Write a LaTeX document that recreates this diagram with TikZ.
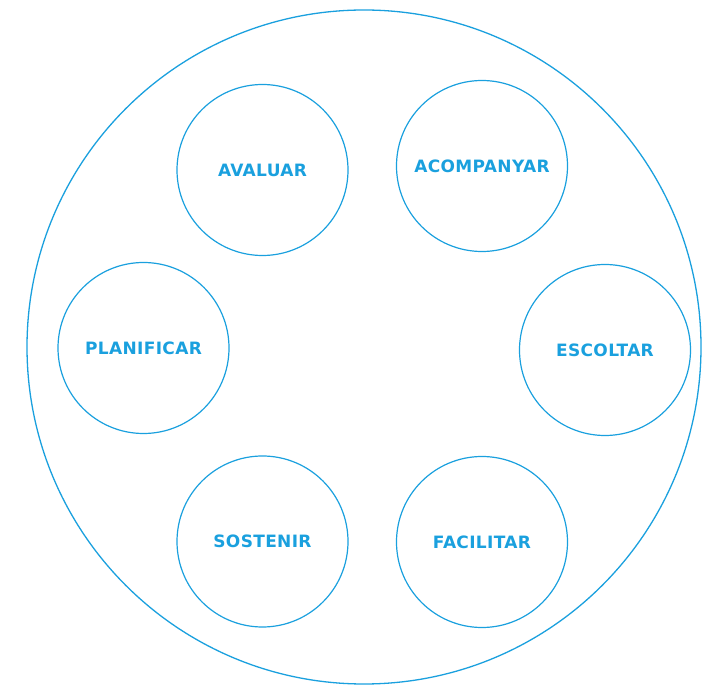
\documentclass[tikz,border=0pt]{standalone}
\usepackage{fontspec}
\setmainfont{Lato}
\newfontfamily\labelfont[LetterSpace=2]{DejaVu Sans}
\definecolor{cblue}{HTML}{1AA0DE}
\newcommand{\lbl}[1]{\raisebox{-2pt}{#1}}
\begin{document}
\begin{tikzpicture}[x=1pt,y=1pt,
  ring/.style={circle,draw=cblue,line width=1.2pt,minimum size=171pt,inner sep=0pt,
    text=cblue,font=\labelfont\bfseries\fontsize{17}{20}\selectfont}]
\useasboundingbox (0,0) rectangle (702,686);
\begin{scope}
\clip (0,0) rectangle (702,686);
\node[circle,draw=cblue,line width=1.3pt,minimum size=674pt,inner sep=0pt] (outer) at (364,339) {};
\end{scope}
\node[ring] (avaluar) at (262.5,516) {\lbl{AVALUAR}};
\node[ring] (acompanyar) at (482,520) {\lbl{ACOMPANYAR}};
\node[ring] (planificar) at (143.5,338) {\lbl{PLANIFICAR}};
\node[ring] (escoltar) at (605,336) {\lbl{ESCOLTAR}};
\node[ring] (sostenir) at (262.5,144.5) {\lbl{SOSTENIR}};
\node[ring] (facilitar) at (482,144) {\lbl{FACILITAR}};
\end{tikzpicture}
\end{document}
